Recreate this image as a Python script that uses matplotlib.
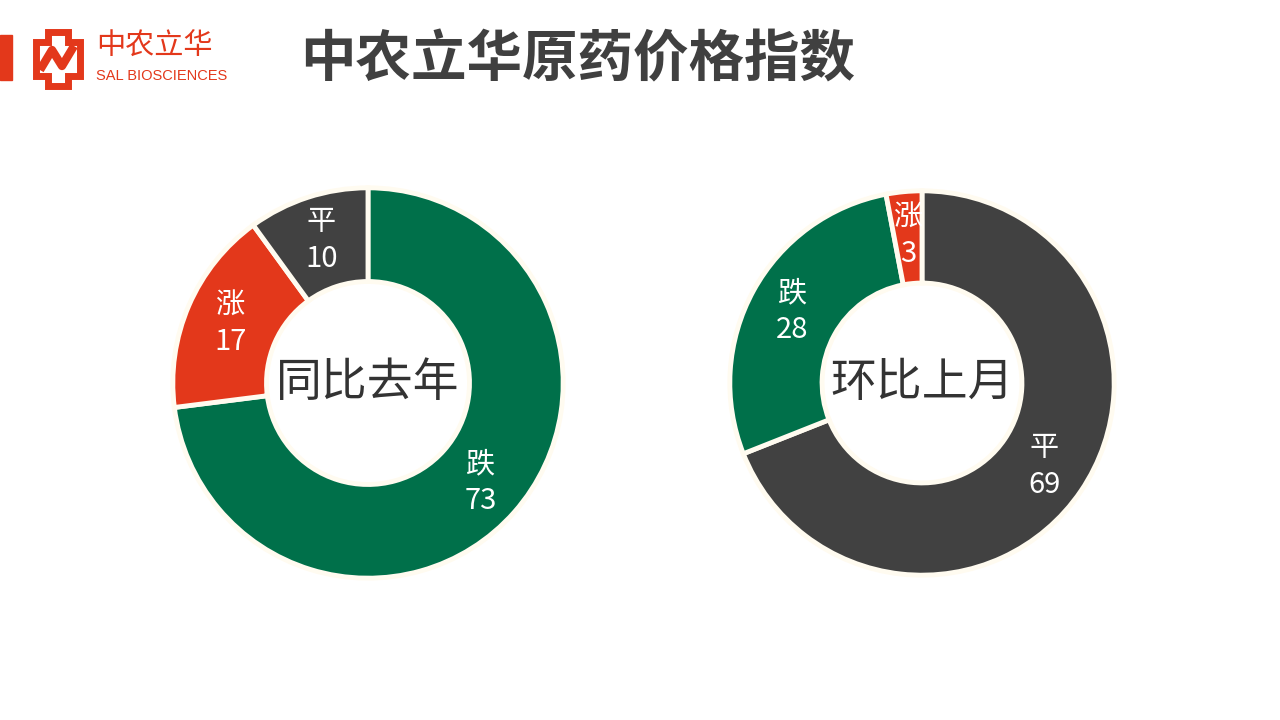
import matplotlib
import matplotlib.pyplot as plt
import numpy as np
from matplotlib.patches import Polygon, Rectangle

matplotlib.use('Agg')

plt.rcParams['font.family'] = ['Noto Sans CJK SC', 'DejaVu Sans']

# data
labels_yoy = ['跌', '涨', '平']
values_yoy = [73, 17, 10]
colors_yoy = ['#00704A', '#E3381B', '#414141']

labels_mom = ['平', '跌', '涨']
values_mom = [69, 28, 3]
colors_mom = ['#414141', '#00704A', '#E3381B']

title = '中农立华原药价格指数'
center_yoy = '同比去年'
center_mom = '环比上月'

W, H = 1280, 720
fig = plt.figure(figsize=(12.8, 7.2), dpi=100)
fig.patch.set_facecolor('white')


def donut(cx, cy, r_px, values, colors, labels, center_text):
    size = 2 * r_px / 0.97
    ax = fig.add_axes([(cx - size / 2) / W, 1 - (cy + size / 2) / H, size / W, size / H])
    ax.pie(values, colors=colors, startangle=90, counterclock=False, radius=1.0,
           wedgeprops=dict(width=0.48, edgecolor='#FFFBF0', linewidth=3.5))
    ax.set_xlim(-1.03, 1.03)
    ax.set_ylim(-1.03, 1.03)
    ax.set_aspect('equal')
    ax.axis('off')
    total = sum(values)
    start = 90
    for v, lab in zip(values, labels):
        ang = np.deg2rad(start - 360 * v / total / 2)
        start -= 360 * v / total
        x, y = 0.77 * np.cos(ang), 0.77 * np.sin(ang)
        ax.text(x, y, f'{lab}\n{v}', ha='center', va='center', color='white',
                fontsize=21, linespacing=1.3)
    ax.text(0, 0, center_text, ha='center', va='center', color='#333333', fontsize=33)


donut(368, 383, 195, values_yoy, colors_yoy, labels_yoy, center_yoy)
donut(922, 383, 192, values_mom, colors_mom, labels_mom, center_mom)

# header
hdr = fig.add_axes([0, 0, 1, 1])
hdr.set_xlim(0, W)
hdr.set_ylim(H, 0)
hdr.axis('off')
hdr.add_patch(Rectangle((0, 35), 12, 45, color='#E3381B'))

# logo mark
red = '#E3381B'
cross = [(48, 32), (68, 32), (68, 42), (80, 42), (80, 76), (68, 76), (68, 86),
         (48, 86), (48, 76), (36, 76), (36, 42), (48, 42)]
hdr.add_patch(Polygon(cross, closed=True, fill=False, edgecolor=red, linewidth=5))
hdr.plot([40, 52, 62, 74], [70, 50, 66, 46], color=red, linewidth=6, solid_capstyle='butt')
hdr.text(96, 47, '中农立华', color=red, fontsize=21, va='center', ha='left')
hdr.text(96, 76, 'SAL BIOSCIENCES', color=red, fontsize=10.5, va='center', ha='left',
         family=['Liberation Sans', 'DejaVu Sans'])

hdr.text(300, 60, title, color='#404040', fontsize=40, fontweight='bold',
         va='center', ha='left')

plt.savefig('out.png', dpi=100)
plt.close()
